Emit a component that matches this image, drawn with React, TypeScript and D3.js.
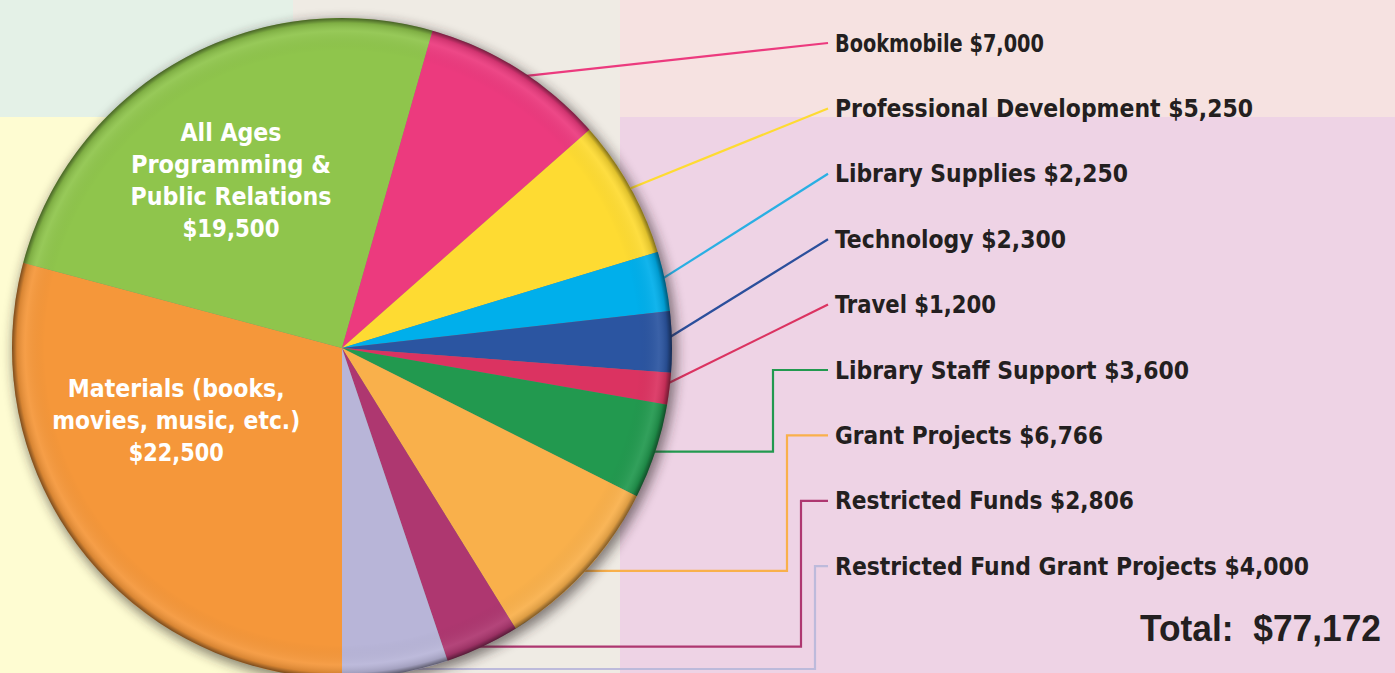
import React from "react";
import * as d3 from "d3";

// ---------- data ----------
const categories = [
  "Materials (books, movies, music, etc.)",
  "All Ages Programming & Public Relations",
  "Bookmobile",
  "Professional Development",
  "Library Supplies",
  "Technology",
  "Travel",
  "Library Staff Support",
  "Grant Projects",
  "Restricted Funds",
  "Restricted Fund Grant Projects",
];
const values = [22500, 19500, 7000, 5250, 2250, 2300, 1200, 3600, 6766, 2806, 4000];
const sliceColors = [
  "#F5973A", "#8FC54C", "#EC3A7E", "#FEDB32", "#00AFEB", "#2B55A1",
  "#DB3361", "#22994F", "#F9B04B", "#AE3770", "#B8B5D8",
];
const lineColors = [
  null, null, "#EC3A7E", "#FEDB32", "#2AAFE3", "#2B4F9C",
  "#DB3361", "#22994F", "#F9B04B", "#AE3770", "#BDBADB",
];
// inside-pie label lines (first two categories)
const innerLabelLines = [
  ["Materials (books,", "movies, music, etc.)"],
  ["All Ages", "Programming &", "Public Relations"],
];
const totalLabel = "Total:";

// ---------- layout ----------
const W = 1395;
const H = 673;
const CX = 342;
const CY = 348;
const R = 330;
const LABEL_X = 835;
const LINE_END_X = 828;
const LABEL_TOP = 43;
const LABEL_STEP = 65.4;
const ELBOW_X0 = 773;
const ELBOW_STEP = 14;
const INNER_SHIFT = [0.244, -0.0705]; // radians
const INNER_R = [0.548, 0.608];
const LABEL_WIDTHS: Record<string, number> = {
  Bookmobile: 209,
  "Professional Development": 418,
  "Library Supplies": 293,
  Technology: 231,
  Travel: 161,
  "Library Staff Support": 354,
  "Grant Projects": 268,
  "Restricted Funds": 299,
  "Restricted Fund Grant Projects": 474,
};
const INNER_WIDTHS = [
  [217, 248, 95],
  [101, 200, 201, 97],
];

const fmt = d3.format("$,");
const FONT = "'Liberation Sans Narrow','DejaVu Sans Condensed','Liberation Sans',Roboto,sans-serif";

export default function App() {
  const pieGen = d3
    .pie<number>()
    .sort(null)
    .value((d) => d)
    .startAngle(Math.PI)
    .endAngle(3 * Math.PI);
  const arcs = pieGen(values);
  const arcGen = d3.arc<d3.PieArcDatum<number>>().innerRadius(0).outerRadius(R);
  const total = d3.sum(values);

  const bgRects = [
    { x: 0, y: 0, w: 293, h: 117, fill: "#E4F1E7" },
    { x: 293, y: 0, w: 327, h: H, fill: "#EFEBE4" },
    { x: 620, y: 0, w: W - 620, h: 117, fill: "#F6E2E1" },
    { x: 620, y: 117, w: W - 620, h: H - 117, fill: "#EED3E5" },
    { x: 0, y: 117, w: 293, h: H - 117, fill: "#FEFCD2" },
  ];

  const leaders = arcs.slice(2).map((a, j) => {
    const i = j + 2;
    const mid = (a.startAngle + a.endAngle) / 2;
    const sx = CX + R * 0.97 * Math.sin(mid);
    const syRaw = CY - R * 0.97 * Math.cos(mid);
    const ly = LABEL_TOP + j * LABEL_STEP;
    let d: string;
    if (j < 5) {
      d = `M${sx},${syRaw}L${LINE_END_X},${ly}`;
    } else {
      const sy = Math.min(CY - R * Math.cos(mid), H - 4);
      const ex = ELBOW_X0 + (j - 5) * ELBOW_STEP;
      d = `M${CX + R * 0.9 * Math.sin(mid)},${sy}L${ex},${sy}L${ex},${ly}L${LINE_END_X},${ly}`;
    }
    return { i, d, ly, color: lineColors[i] as string, text: `${categories[i]} ${fmt(values[i])}` };
  });

  const inner = [0, 1].map((i) => {
    const a = arcs[i];
    const mid = (a.startAngle + a.endAngle) / 2 + INNER_SHIFT[i];
    const x = CX + R * INNER_R[i] * Math.sin(mid);
    const y = CY - R * INNER_R[i] * Math.cos(mid);
    const lines = [...innerLabelLines[i], fmt(values[i])];
    return { x, y, lines, widths: INNER_WIDTHS[i] };
  });

  return (
    <svg
      width={W}
      height={H}
      style={{ position: "absolute", left: 0, top: 0, display: "block" }}
    >
      <defs>
        <filter id="shadow" x="-20%" y="-20%" width="140%" height="140%">
          <feGaussianBlur stdDeviation="6" />
        </filter>
        <radialGradient id="rim" cx={CX} cy={CY} r={R} gradientUnits="userSpaceOnUse">
          <stop offset="0.9" stopColor="#000" stopOpacity="0" />
          <stop offset="0.96" stopColor="#fff" stopOpacity="0.07" />
          <stop offset="0.985" stopColor="#000" stopOpacity="0.12" />
          <stop offset="1" stopColor="#000" stopOpacity="0.5" />
        </radialGradient>
      </defs>
      {bgRects.map((b, k) => (
        <rect key={k} x={b.x} y={b.y} width={b.w} height={b.h} fill={b.fill} />
      ))}
      {leaders.map((l) => (
        <path key={l.i} d={l.d} fill="none" stroke={l.color} strokeWidth={2.2} />
      ))}
      <circle cx={CX + 3} cy={CY + 4} r={R + 2} fill="#2a2020" opacity={0.55} filter="url(#shadow)" />
      <g transform={`translate(${CX},${CY})`}>
        {arcs.map((a, i) => (
          <path key={i} d={arcGen(a) as string} fill={sliceColors[i]} />
        ))}
      </g>
      <circle cx={CX} cy={CY} r={R} fill="url(#rim)" />
      {inner.map((t, k) => (
        <g key={k}>
          {t.lines.map((s, n) => (
            <text
              key={n}
              x={t.x}
              y={t.y + (n - (t.lines.length - 1) / 2) * 32 + 8.5}
              textAnchor="middle"
              fontFamily={FONT}
              fontWeight="bold"
              fontSize={24}
              fill="#ffffff"
              textLength={t.widths[n]}
              lengthAdjust="spacingAndGlyphs"
            >
              {s}
            </text>
          ))}
        </g>
      ))}
      {leaders.map((l) => (
        <text
          key={l.i}
          x={LABEL_X}
          y={l.ly + 8.5}
          fontFamily={FONT}
          fontWeight="bold"
          fontSize={24}
          fill="#231F20"
          textLength={LABEL_WIDTHS[categories[l.i]] ?? undefined}
          lengthAdjust="spacingAndGlyphs"
        >
          {l.text}
        </text>
      ))}
      <text
        x={1140}
        y={641}
        fontFamily="'Liberation Sans',Arial,sans-serif"
        fontWeight="bold"
        fontSize={36}
        fill="#231F20"
        textLength={241}
        lengthAdjust="spacingAndGlyphs"
        xmlSpace="preserve"
      >
        {`${totalLabel}  ${fmt(total)}`}
      </text>
    </svg>
  );
}
